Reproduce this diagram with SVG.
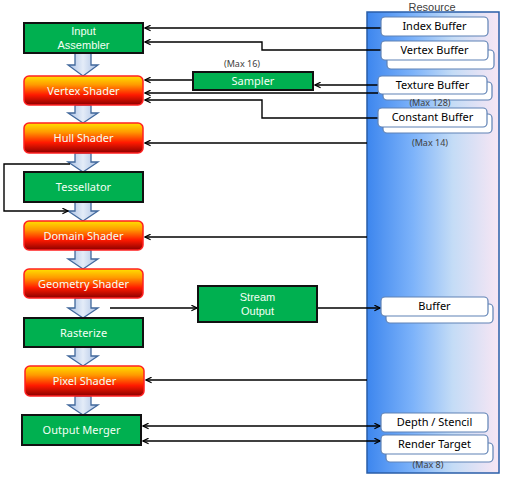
<svg xmlns="http://www.w3.org/2000/svg" width="508" height="482" viewBox="0 0 508 482">
<defs>
<linearGradient id="shader" x1="0" y1="0" x2="0" y2="1">
<stop offset="0" stop-color="#ffe000"/>
<stop offset="0.3" stop-color="#ff9a00"/>
<stop offset="0.65" stop-color="#ff1a00"/>
<stop offset="1" stop-color="#8a0000"/>
</linearGradient>
<linearGradient id="panel" x1="0" y1="0" x2="1" y2="0">
<stop offset="0" stop-color="#3d86ee"/>
<stop offset="0.35" stop-color="#7db3fa"/>
<stop offset="0.65" stop-color="#c4dcf6"/>
<stop offset="1" stop-color="#f8e6f4"/>
</linearGradient>
<linearGradient id="down" x1="0" y1="0" x2="1" y2="0">
<stop offset="0" stop-color="#a9c0e4"/>
<stop offset="0.5" stop-color="#e4ecf8"/>
<stop offset="1" stop-color="#a9c0e4"/>
</linearGradient>
<marker id="ah" viewBox="0 0 10 10" refX="9" refY="5" markerWidth="7" markerHeight="7" markerUnits="userSpaceOnUse" orient="auto-start-reverse">
<path d="M1,1 L9,5 L1,9" fill="none" stroke="#000" stroke-width="1.8"/>
</marker>
</defs>
<style>
.green{fill:#00b050;stroke:#111;stroke-width:2}
.shader{fill:url(#shader);stroke:#ff2020;stroke-width:1.5}
.t{font-family:"Noto Sans","Liberation Sans",sans-serif;font-size:11px;text-anchor:middle}
.t2{font-family:"Liberation Sans","Noto Sans",sans-serif;font-size:11px;text-anchor:middle}
.tw{fill:#f4fff4}
.tb{fill:#000}
.small{font-family:"Noto Sans","Liberation Sans",sans-serif;font-size:9px;text-anchor:middle;fill:#404040}
.buf{fill:#fff;stroke:#5f82b5;stroke-width:1.2}
.ln{fill:none;stroke:#000;stroke-width:1.4}
.da{fill:url(#down);stroke:#41689c;stroke-width:1.3}
</style>

<g id="resource">
<rect x="367" y="12" width="132" height="461" fill="url(#panel)" stroke="#2a5ea8" stroke-width="1.5"/>
<text x="432" y="10.5" class="t2" font-size="10.5" fill="#404040">Resource</text>
</g>

<g id="down-arrows">
<path class="da" d="M75,53 H91 V65 H98 L83,76 L68,65 H75 Z"/>
<path class="da" d="M75,105 H91 V113 H98 L83,123 L68,113 H75 Z"/>
<path class="da" d="M75,153 H91 V162 H98 L83,172 L68,162 H75 Z"/>
<path class="da" d="M75,202 H91 V211 H98 L83,221 L68,211 H75 Z"/>
<path class="da" d="M75,250 H91 V259 H98 L83,269 L68,259 H75 Z"/>
<path class="da" d="M75,298 H91 V308 H98 L83,318 L68,308 H75 Z"/>
<path class="da" d="M75,347 H91 V356 H98 L83,366 L68,356 H75 Z"/>
<path class="da" d="M75,396 H91 V405 H98 L83,415 L68,405 H75 Z"/>
</g>

<g id="connectors">
<path class="ln" d="M381,28 H145" marker-end="url(#ah)"/>
<path class="ln" d="M381,50 H262 V42 H145" marker-end="url(#ah)"/>
<path class="ln" d="M378,85 H315" marker-end="url(#ah)"/>
<path class="ln" d="M193,80 H145" marker-end="url(#ah)"/>
<path class="ln" d="M378,93 H145" marker-end="url(#ah)"/>
<path class="ln" d="M378,118 H262 V100 H145" marker-end="url(#ah)"/>
<path class="ln" d="M367,143 H145" marker-end="url(#ah)"/>
<path class="ln" d="M367,237 H145" marker-end="url(#ah)"/>
<path class="ln" d="M110,308 H197" marker-end="url(#ah)"/>
<path class="ln" d="M318,308 H380" marker-end="url(#ah)"/>
<path class="ln" d="M367,380 H146" marker-end="url(#ah)"/>
<path class="ln" d="M143,426 H380" marker-start="url(#ah)" marker-end="url(#ah)"/>
<path class="ln" d="M143,441 H380" marker-start="url(#ah)" marker-end="url(#ah)"/>
<path class="ln" d="M70,164 H4 V211 H68" marker-end="url(#ah)"/>
</g>

<g id="input-assembler">
<rect class="green" x="24" y="23" width="119" height="30"/>
<text class="t2 tw" x="83.5" y="35">Input</text>
<text class="t2 tw" x="83.5" y="49">Assembler</text>
</g>
<g id="vertex-shader">
<rect class="shader" x="24" y="76" width="119" height="29" rx="5"/>
<text class="t tw" x="83.5" y="95">Vertex Shader</text>
</g>
<g id="hull-shader">
<rect class="shader" x="24" y="123" width="119" height="30" rx="5"/>
<text class="t tw" x="83.5" y="142">Hull Shader</text>
</g>
<g id="tessellator">
<rect class="green" x="24" y="172" width="119" height="30"/>
<text class="t tw" x="83.5" y="191">Tessellator</text>
</g>
<g id="domain-shader">
<rect class="shader" x="24" y="221" width="119" height="29" rx="5"/>
<text class="t tw" x="83.5" y="240">Domain Shader</text>
</g>
<g id="geometry-shader">
<rect class="shader" x="24" y="269" width="119" height="29" rx="5"/>
<text class="t tw" x="83.5" y="288">Geometry Shader</text>
</g>
<g id="rasterize">
<rect class="green" x="24" y="318" width="119" height="29"/>
<text class="t tw" x="83.5" y="337">Rasterize</text>
</g>
<g id="pixel-shader">
<rect class="shader" x="25" y="366" width="119" height="30" rx="5"/>
<text class="t tw" x="84.5" y="385">Pixel Shader</text>
</g>
<g id="output-merger">
<rect class="green" x="22" y="415" width="119" height="30"/>
<text class="t tw" x="81.5" y="434">Output Merger</text>
</g>
<g id="sampler">
<text class="small" x="242" y="67">(Max 16)</text>
<rect class="green" x="193" y="72" width="120" height="18"/>
<text class="t tw" x="253" y="85">Sampler</text>
</g>
<g id="stream-output">
<rect class="green" x="198" y="286" width="119" height="36"/>
<text class="t2 tw" x="257.5" y="301">Stream</text>
<text class="t2 tw" x="257.5" y="315">Output</text>
</g>

<g id="index-buffer">
<rect class="buf" x="381" y="17" width="107" height="19" rx="4"/>
<text class="t tb" x="434.5" y="30">Index Buffer</text>
</g>
<g id="vertex-buffer">
<rect class="buf" x="387" y="50" width="107" height="19" rx="4"/>
<rect class="buf" x="381" y="41" width="107" height="19" rx="4"/>
<text class="t tb" x="434.5" y="54">Vertex Buffer</text>
</g>
<g id="texture-buffer">
<rect class="buf" x="383" y="82" width="109" height="18" rx="4"/>
<rect class="buf" x="378" y="76" width="109" height="18" rx="4"/>
<text class="t tb" x="432.5" y="89">Texture Buffer</text>
<text class="small" x="430" y="106">(Max 128)</text>
</g>
<g id="constant-buffer">
<rect class="buf" x="383" y="114" width="109" height="19" rx="4"/>
<rect class="buf" x="378" y="108" width="109" height="19" rx="4"/>
<text class="t tb" x="432.5" y="121">Constant Buffer</text>
<text class="small" x="430" y="146">(Max 14)</text>
</g>
<g id="buffer">
<rect class="buf" x="386" y="304" width="107" height="19" rx="4"/>
<rect class="buf" x="381" y="297" width="107" height="19" rx="4"/>
<text class="t tb" x="434.5" y="310">Buffer</text>
</g>
<g id="depth-stencil">
<rect class="buf" x="381" y="413" width="107" height="19" rx="4"/>
<text class="t tb" x="434.5" y="426">Depth / Stencil</text>
</g>
<g id="render-target">
<rect class="buf" x="386" y="443" width="107" height="19" rx="4"/>
<rect class="buf" x="381" y="435" width="107" height="19" rx="4"/>
<text class="t tb" x="434.5" y="448">Render Target</text>
<text class="small" x="428" y="468">(Max 8)</text>
</g>
</svg>
